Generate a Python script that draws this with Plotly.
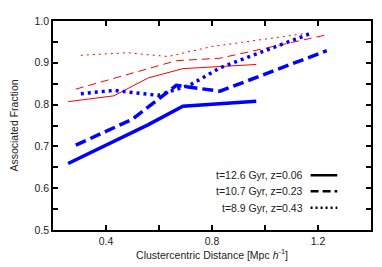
import plotly.graph_objects as go

# ---- data ----
x_solid = [0.257, 0.43, 0.56, 0.69, 0.967]
blue_solid = [0.659, 0.713, 0.752, 0.796, 0.808]
red_solid = [0.807, 0.821, 0.864, 0.886, 0.896]

x_dashed = [0.286, 0.50, 0.665, 0.83, 1.233]
blue_dashed = [0.703, 0.765, 0.846, 0.832, 0.929]
red_dashed = [0.837, 0.875, 0.905, 0.911, 0.967]

x_dotted_blue = [0.305, 0.43, 0.596, 0.72, 0.83, 1.175]
blue_dotted = [0.826, 0.834, 0.822, 0.848, 0.888, 0.971]
x_dotted_red = [0.305, 0.48, 0.634, 0.80, 1.175]
red_dotted = [0.918, 0.924, 0.915, 0.939, 0.972]

legend_labels = ["t=12.6 Gyr, z=0.06", "t=10.7 Gyr, z=0.23", "t=8.9 Gyr, z=0.43"]
x_ticks = [0.4, 0.8, 1.2]
y_ticks = [0.5, 0.6, 0.7, 0.8, 0.9, 1.0]

BLUE = "rgb(0,0,255)"
RED = "rgb(255,0,0)"
FS = 10.5
FAM = "Liberation Sans"

fig = go.Figure()
fig.add_trace(go.Scatter(x=x_solid, y=red_solid, mode="lines",
                         line=dict(color=RED, width=1)))
fig.add_trace(go.Scatter(x=x_dashed, y=red_dashed, mode="lines",
                         line=dict(color=RED, width=1, dash="8px,5px")))
fig.add_trace(go.Scatter(x=x_dotted_red, y=red_dotted, mode="lines",
                         line=dict(color=RED, width=1, dash="2px,4px")))
fig.add_trace(go.Scatter(x=x_solid, y=blue_solid, mode="lines",
                         line=dict(color=BLUE, width=3.5)))
fig.add_trace(go.Scatter(x=x_dashed, y=blue_dashed, mode="lines",
                         line=dict(color=BLUE, width=3.5, dash="11px,5px")))
fig.add_trace(go.Scatter(x=x_dotted_blue, y=blue_dotted, mode="lines",
                         line=dict(color=BLUE, width=3.5, dash="3px,4px")))

# legend (text right-aligned, sample line to the right)
rows_y = [0.262, 0.185, 0.107]
dashes = ["solid", "8px,4px", "2px,3px"]
for lab, ry, dsh in zip(legend_labels, rows_y, dashes):
    fig.add_annotation(x=0.792, y=ry, xref="paper", yref="paper", text=lab,
                       showarrow=False, xanchor="right", yanchor="middle",
                       font=dict(family=FAM, size=FS, color="#222"))
    fig.add_shape(type="line", xref="paper", yref="paper", x0=0.810, x1=0.894,
                  y0=ry, y1=ry, line=dict(color="black", width=2.5, dash=dsh))

axis_common = dict(showline=True, linecolor="black", linewidth=1.8, mirror="allticks",
                   ticks="inside", ticklen=5, tickcolor="black", tickwidth=1.5,
                   showgrid=False, zeroline=False, automargin=False,
                   tickfont=dict(family=FAM, size=FS, color="#222"))

fig.update_xaxes(range=[0.2, 1.4], tickvals=x_ticks, ticktext=["0.4", "0.8", "1.2"],
                 minor=dict(tickvals=[0.6, 1.0], ticks="inside", ticklen=5,
                            tickcolor="black", tickwidth=1.5),
                 title=dict(text="Clustercentric Distance [Mpc <i>h</i><sup>-1</sup>]",
                            font=dict(family=FAM, size=FS, color="#222"), standoff=6),
                 **axis_common)
fig.update_yaxes(range=[0.5, 1.0], tickvals=y_ticks,
                 ticktext=["0.5", "0.6", "0.7", "0.8", "0.9", "1.0"],
                 minor=dict(tickvals=[0.55, 0.65, 0.75, 0.85, 0.95], ticks="inside",
                            ticklen=5, tickcolor="black", tickwidth=1.5),
                 title=dict(text="Associated Fraction",
                            font=dict(family=FAM, size=FS, color="#222"), standoff=16),
                 **axis_common)

fig.update_layout(width=382, height=267, showlegend=False,
                  margin=dict(l=45, r=19, t=13, b=45),
                  paper_bgcolor="white", plot_bgcolor="white",
                  font=dict(family=FAM))

fig.write_html("out.html")
